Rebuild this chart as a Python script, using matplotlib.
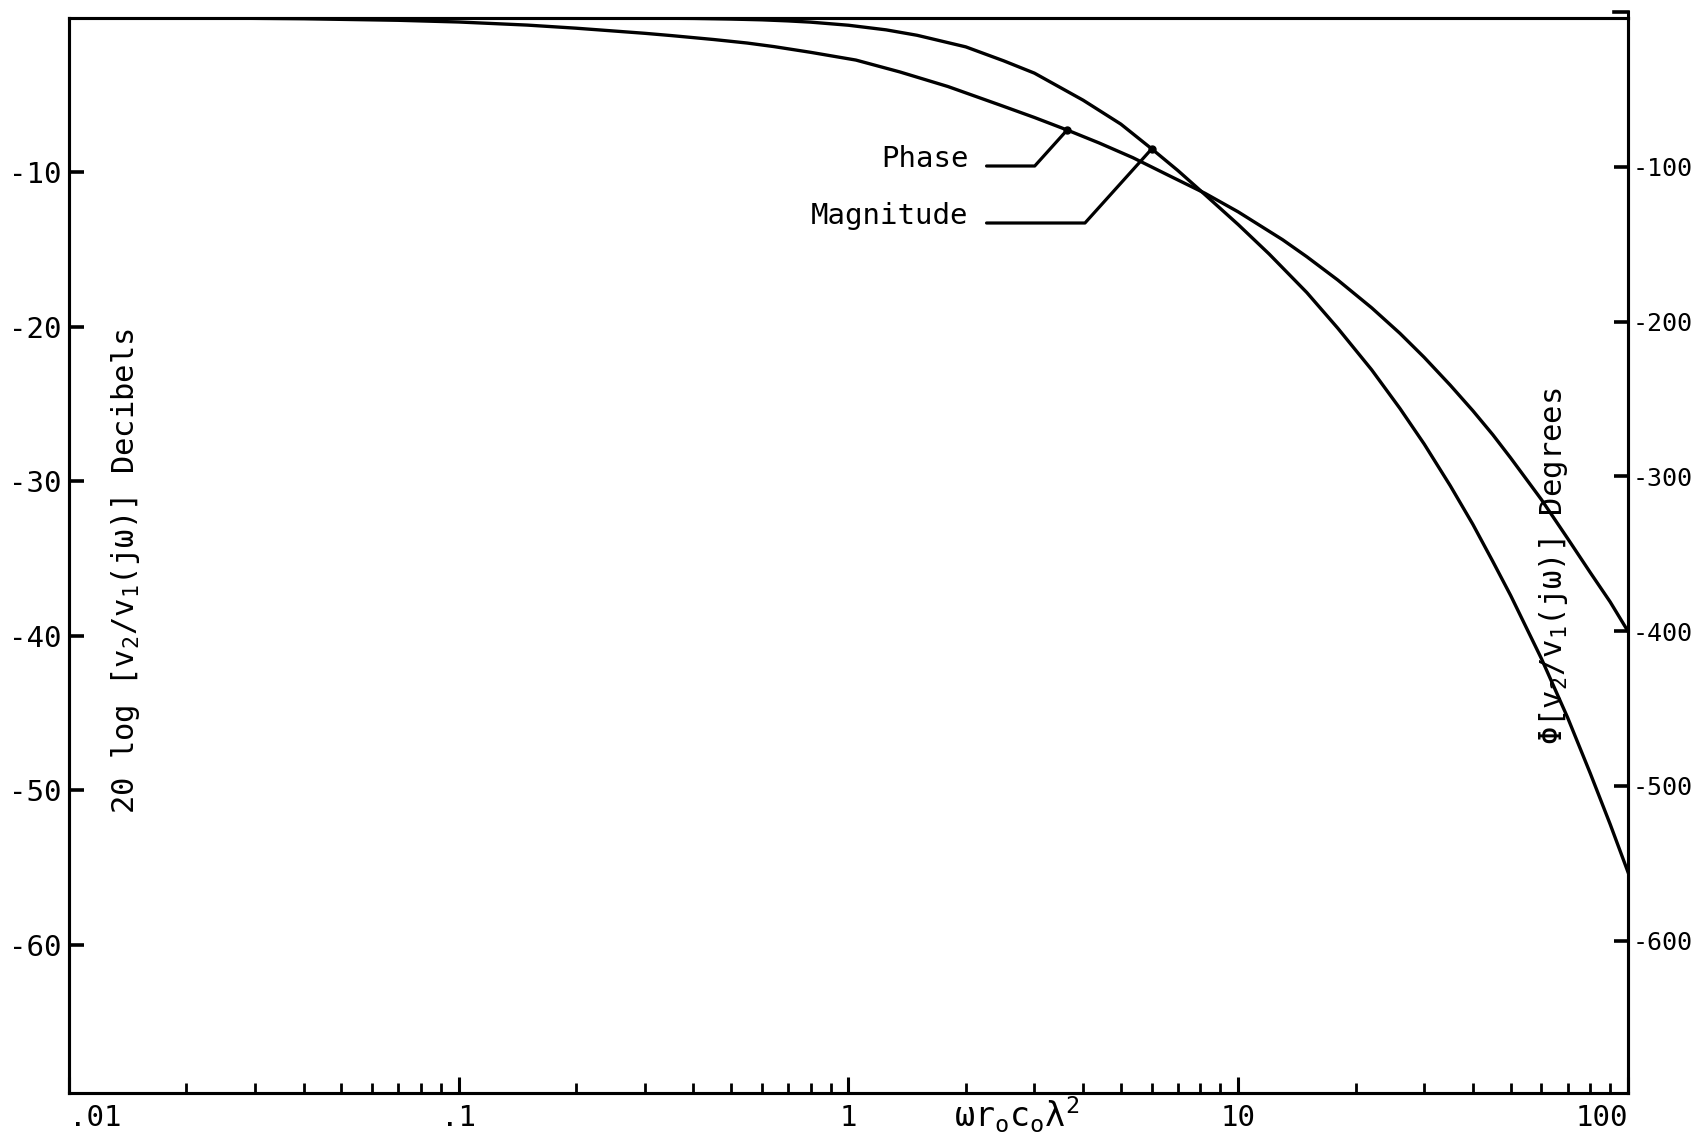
import matplotlib
matplotlib.use("Agg")
import matplotlib.pyplot as plt
import matplotlib.transforms as mtransforms
from matplotlib.ticker import LogLocator, NullFormatter

plt.rcParams['font.family'] = ['DejaVu Sans Mono', 'DejaVu Sans']
plt.rcParams['font.size'] = 21
plt.rcParams['axes.unicode_minus'] = False
plt.rcParams['mathtext.fontset'] = 'custom'
plt.rcParams['mathtext.rm'] = 'DejaVu Sans Mono'
plt.rcParams['mathtext.it'] = 'DejaVu Sans Mono'
plt.rcParams['mathtext.default'] = 'rm'

# values, x = omega r0 c0 lambda^2
mag_x = [0.01, 0.05, 0.1, 0.2, 0.3, 0.4, 0.5, 0.6, 0.7, 0.8, 1.0, 1.25, 1.5,
         2.0, 2.5, 3.0, 4.0, 5.0, 6.0, 7.0, 8.0, 10, 12, 15, 18, 22, 26, 30,
         35, 40, 45, 50, 60, 70, 80, 90, 100]
mag_db = [0, 0, 0, -0.02, -0.04, -0.06, -0.1, -0.15, -0.22, -0.3, -0.5, -0.8, -1.15,
          -1.9, -2.8, -3.6, -5.35, -6.9, -8.5, -9.9, -11.2, -13.4, -15.3, -17.8, -20.1, -22.8, -25.3, -27.6,
          -30.3, -32.8, -35.2, -37.4, -41.5, -45.3, -48.9, -52.2, -55.3]

phase_x = [0.01, 0.02, 0.04, 0.07, 0.1, 0.15, 0.2, 0.3, 0.352, 0.45, 0.55, 0.644, 0.8,
           1.045, 1.356, 1.8, 2.45, 3.0, 3.64, 4.4, 5.37, 6.7, 8.22, 10, 13, 15,
           18, 22, 26, 30, 35, 40, 45, 50, 60, 70, 80, 90, 100]
phase_deg = [-3.4, -3.6, -4.2, -5.2, -6.3, -8.3, -10.3, -13.6, -15.1, -17.6, -19.9, -22.2, -25.9,
             -30.9, -38.6, -48, -60, -68, -76.1, -84.5, -94, -106, -117, -129, -147, -158,
             -173, -191, -207.5, -223, -241, -257.5, -273, -288, -315, -340, -362, -381, -400]

x_ticks = [0.01, 0.1, 1, 10, 100]
x_labels = [".01", ".1", "1", "10", "100"]
db_ticks = [-10, -20, -30, -40, -50, -60]
db_labels = ["-10", "-20", "-30", "-40", "-50", "-60"]
deg_ticks = [-100, -200, -300, -400, -500, -600]
deg_labels = ["-100", "-200", "-300", "-400", "-500", "-600"]

fig = plt.figure(figsize=(17.02, 11.37), dpi=100)
ax = fig.add_axes([0.0405, 0.0387, 0.916, 0.9459])
ax2 = ax.twinx()

ax.plot(mag_x, mag_db, color='black', lw=2.4)
ax2.plot(phase_x, phase_deg, color='black', lw=2.4)

ax.set_xscale('log')
ax.set_xlim(0.01, 100)
ax.set_ylim(-69.6, 0)
ax2.set_ylim(-698.4, -3.4)

for a in (ax, ax2):
    for s in a.spines.values():
        s.set_linewidth(2.2)

ax.set_xticks(x_ticks, labels=x_labels)
ax.xaxis.set_minor_locator(LogLocator(base=10, subs=range(2, 10)))
ax.xaxis.set_minor_formatter(NullFormatter())
ax.tick_params(axis='x', which='major', direction='in', length=11.5, width=2.2, pad=8, top=False)
ax.tick_params(axis='x', which='minor', direction='in', length=7, width=2, top=False)
tl = ax.get_xticklabels()
tl[0].set_ha('left')
tl[-1].set_ha('right')

ax.set_yticks(db_ticks, labels=db_labels)
ax.tick_params(axis='y', direction='in', length=11, width=2.6, pad=5, right=False)
ax2.set_yticks(deg_ticks, labels=deg_labels)
ax2.tick_params(axis='y', direction='in', length=10, width=2.6, pad=3, labelsize=18)

# right scale runs a little above the frame, up to 0 degrees
trans = mtransforms.blended_transform_factory(ax2.transAxes, ax2.transData)
top = ax2.get_ylim()[1]
ax2.plot([1, 1], [top, 0], transform=trans, color='black', lw=2.2, clip_on=False)
ax2.plot([1 - 0.009, 1], [0, 0], transform=trans, color='black', lw=2.6, clip_on=False)

# axis titles written inside the frame
ax.text(0.036, 0.485, r"20 log [v$_2$/v$_1$(j$\omega$)] Decibels", transform=ax.transAxes,
        rotation=90, ha='center', va='center', fontsize=22)
ax.text(0.9525, 0.49, r"$\Phi$[v$_2$/v$_1$(j$\omega$)] Degrees", transform=ax.transAxes,
        rotation=90, ha='center', va='center', fontsize=22)
ax.text(0.608, -0.0204, r"$\omega$r$_o$c$_o\lambda^2$", transform=ax.transAxes,
        ha='center', va='center', fontsize=24)

# leader lines
i_p = phase_x.index(3.64)
i_m = mag_x.index(6.0)
ax2.plot(phase_x[i_p], phase_deg[i_p], 'o', color='black', ms=5)
ax.plot(mag_x[i_m], mag_db[i_m], 'o', color='black', ms=5)
ax2.annotate("Phase", xy=(phase_x[i_p], phase_deg[i_p]), xycoords='data',
             xytext=(0.577, 0.861), textcoords='axes fraction', ha='right', va='baseline',
             arrowprops=dict(arrowstyle='-', lw=2.3, color='black', relpos=(1, 0.25),
                             connectionstyle='angle,angleA=0,angleB=48,rad=0',
                             shrinkA=11, shrinkB=0))
ax.annotate("Magnitude", xy=(mag_x[i_m], mag_db[i_m]), xycoords='data',
            xytext=(0.577, 0.808), textcoords='axes fraction', ha='right', va='baseline',
            arrowprops=dict(arrowstyle='-', lw=2.3, color='black', relpos=(1, 0.25),
                            connectionstyle='angle,angleA=0,angleB=48,rad=0',
                            shrinkA=11, shrinkB=0))

fig.savefig("out.png", dpi=100)
